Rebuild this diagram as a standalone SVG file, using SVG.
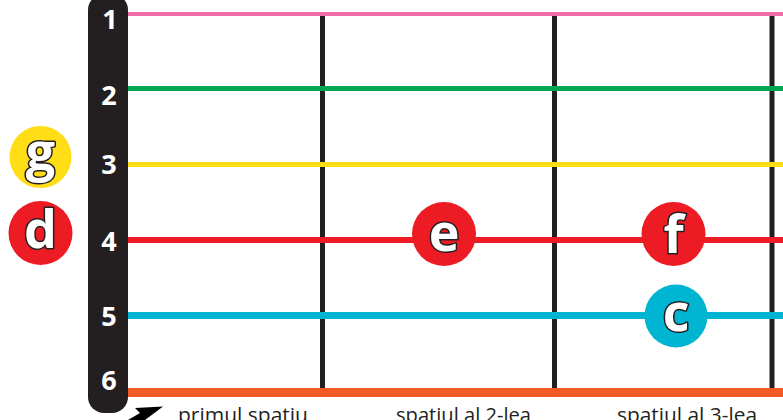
<svg xmlns="http://www.w3.org/2000/svg" width="783" height="420" viewBox="0 0 783 420">
<style>
.fret{stroke:#231f20;stroke-width:5}
.num{font-family:"Open Sans","DejaVu Sans",sans-serif;font-weight:700;font-size:27px;fill:#fff;text-anchor:middle}
.note{font-family:"Open Sans","DejaVu Sans",sans-serif;font-weight:700;font-size:52px;fill:#fff;stroke:#231f20;stroke-width:3;paint-order:stroke;text-anchor:middle;stroke-linejoin:round}
.lbl{font-family:"Open Sans","Liberation Sans",sans-serif;font-size:20px;fill:#231f20}
</style>
<rect width="783" height="420" fill="#fff"/>
<g id="connectors">
<line class="fret" x1="322.5" y1="15" x2="322.5" y2="390"/>
<line class="fret" x1="554.5" y1="15" x2="554.5" y2="390"/>
<line class="fret" x1="772" y1="15" x2="772" y2="390"/>
<line x1="120" y1="14" x2="783" y2="14" stroke="#f06ea9" stroke-width="4"/>
<line x1="120" y1="88.5" x2="783" y2="88.5" stroke="#00a651" stroke-width="5"/>
<line x1="120" y1="164.5" x2="783" y2="164.5" stroke="#ffde17" stroke-width="5"/>
<line x1="120" y1="240" x2="783" y2="240" stroke="#ed1c24" stroke-width="6"/>
<line x1="120" y1="315.5" x2="783" y2="315.5" stroke="#00b5d1" stroke-width="7"/>
<line x1="120" y1="392.5" x2="783" y2="392.5" stroke="#f15a24" stroke-width="9"/>
</g>
<g id="neck">
<rect x="88" y="-6" width="40" height="419" rx="16" fill="#231f20"/>
<text class="num" x="110" y="29">1</text>
<text class="num" x="109" y="105">2</text>
<text class="num" x="109" y="174">3</text>
<text class="num" x="109" y="251">4</text>
<text class="num" x="109" y="326">5</text>
<text class="num" x="109" y="390">6</text>
</g>
<g id="note-g">
<circle cx="40.5" cy="157" r="31" fill="#ffde17"/>
<text class="note" x="40.5" y="170">g</text>
</g>
<g id="note-d">
<circle cx="40.5" cy="233" r="32" fill="#ed1c24"/>
<text class="note" x="40.5" y="248">d</text>
</g>
<g id="note-e">
<circle cx="444" cy="234" r="32" fill="#ed1c24"/>
<text class="note" x="444" y="251">e</text>
</g>
<g id="note-f">
<circle cx="673.5" cy="234" r="32" fill="#ed1c24"/>
<text class="note" x="673.5" y="253">f</text>
</g>
<g id="note-c">
<circle cx="676" cy="316" r="31.5" fill="#00b5d1"/>
<text class="note" x="676" y="331">c</text>
</g>
<g id="labels">
<polygon points="135,408 163,406.5 145,420 128,420 140,413" fill="#000"/>
<text class="lbl" x="178" y="422" textLength="130" lengthAdjust="spacingAndGlyphs">primul spatiu</text>
<text class="lbl" x="396" y="422" textLength="135" lengthAdjust="spacingAndGlyphs">spatiul al 2-lea</text>
<text class="lbl" x="617" y="422" textLength="140" lengthAdjust="spacingAndGlyphs">spatiul al 3-lea</text>
</g>
</svg>
